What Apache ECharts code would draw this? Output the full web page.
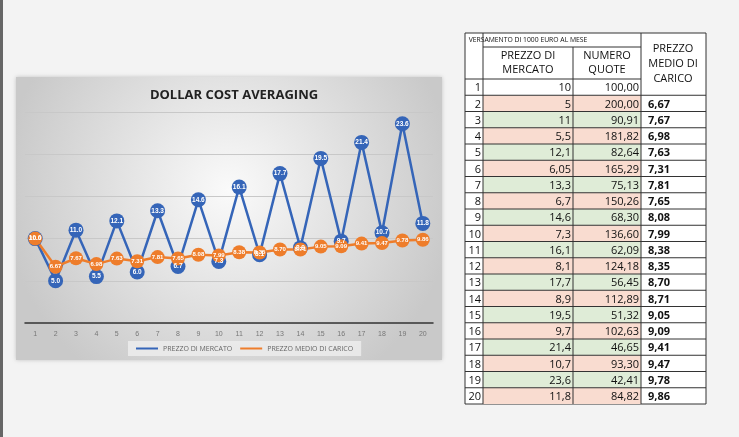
<!DOCTYPE html>
<html>
<head>
<meta charset="utf-8">
<script src="https://cdn.jsdelivr.net/npm/echarts@6/dist/echarts.min.js"></script>
<style>
html,body{margin:0;padding:0;background:#f3f3f3;}
#main{width:739px;height:437px;}
</style>
</head>
<body>
<div id="main"></div>
<script>
var mesi = ['1','2','3','4','5','6','7','8','9','10','11','12','13','14','15','16','17','18','19','20'];
var prezzo = [10, 5, 11, 5.5, 12.1, 6.05, 13.3, 6.7, 14.6, 7.3, 16.1, 8.1, 17.7, 8.9, 19.5, 9.7, 21.4, 10.7, 23.6, 11.8];
var prezzoTxt = ['10','5','11','5,5','12,1','6,05','13,3','6,7','14,6','7,3','16,1','8,1','17,7','8,9','19,5','9,7','21,4','10,7','23,6','11,8'];
var quote = ['100,00','200,00','90,91','181,82','82,64','165,29','75,13','150,26','68,30','136,60','62,09','124,18','56,45','112,89','51,32','102,63','46,65','93,30','42,41','84,82'];
var medio = [10, 6.67, 7.67, 6.98, 7.63, 7.31, 7.81, 7.65, 8.08, 7.99, 8.38, 8.35, 8.70, 8.71, 9.05, 9.09, 9.41, 9.47, 9.78, 9.86];

var myChart = echarts.init(document.getElementById('main'));

// tabella a destra
var g = [];
var tx = [465, 483, 573, 641, 706];
var top0 = 79, rh = 16.25;
var font = '"Open Sans", sans-serif';
g.push({type:'rect', shape:{x:465,y:33,width:241,height:371}, style:{fill:'#fff',stroke:'#333',lineWidth:1}});
g.push({type:'text', style:{x:528,y:40,text:'VERSAMENTO DI 1000 EURO AL MESE',fill:'#111',font:'6.8px '+font,align:'center',verticalAlign:'middle'}});
g.push({type:'line', shape:{x1:483,y1:47,x2:641,y2:47}, style:{stroke:'#333'}});
g.push({type:'text', style:{x:528,y:63,text:'PREZZO DI\nMERCATO',fill:'#111',font:'11px '+font,align:'center',verticalAlign:'middle',lineHeight:14}});
g.push({type:'text', style:{x:607,y:63,text:'NUMERO\nQUOTE',fill:'#111',font:'11px '+font,align:'center',verticalAlign:'middle',lineHeight:14}});
g.push({type:'text', style:{x:673,y:64,text:'PREZZO\nMEDIO DI\nCARICO',fill:'#111',font:'11px '+font,align:'center',verticalAlign:'middle',lineHeight:15}});
for (var i = 0; i < mesi.length; i++) {
	var y = top0 + i * rh;
	var fill = i === 0 ? '#ffffff' : (i % 2 === 1 ? '#f9dcd0' : '#dfecd7');
	g.push({type:'rect', shape:{x:483,y:y,width:158,height:rh}, style:{fill:fill}});
	g.push({type:'text', style:{x:481,y:y+rh/2+1,text:mesi[i],fill:'#111',font:'11px '+font,align:'right',verticalAlign:'middle'}});
	g.push({type:'text', style:{x:571,y:y+rh/2+1,text:prezzoTxt[i],fill:'#111',font:'11px '+font,align:'right',verticalAlign:'middle'}});
	g.push({type:'text', style:{x:639,y:y+rh/2+1,text:quote[i],fill:'#111',font:'11px '+font,align:'right',verticalAlign:'middle'}});
	if (i > 0) {
		g.push({type:'text', style:{x:648,y:y+rh/2+1,text:medio[i].toFixed(2).replace('.', ','),fill:'#111',font:'bold 11px '+font,align:'left',verticalAlign:'middle'}});
		g.push({type:'line', shape:{x1:465,y1:y,x2:706,y2:y}, style:{stroke:'#333'}});
	} else {
		g.push({type:'line', shape:{x1:465,y1:y,x2:641,y2:y}, style:{stroke:'#333'}});
	}
}
for (var c = 1; c < 4; c++) {
	g.push({type:'line', shape:{x1:tx[c],y1:(c===2?47:33),x2:tx[c],y2:404}, style:{stroke:'#333'}});
}
// pannello grafico
g.unshift({type:'rect', z:-10, shape:{x:16,y:77,width:426,height:283}, style:{
	fill:new echarts.graphic.RadialGradient(0.5,0.4,0.8,[{offset:0,color:'#fafafa'},{offset:1,color:'#c9c9c9'}]),
	shadowBlur:4, shadowColor:'rgba(0,0,0,0.2)'}});
g.unshift({type:'rect', z:-11, shape:{x:0,y:0,width:3,height:437}, style:{fill:'#666'}});

var option = {
	backgroundColor : '#f3f3f3',
	title : {
		text : 'DOLLAR COST AVERAGING',
		left : 229, top : 84, textAlign : 'center',
		textStyle : {color:'#222', fontSize:13, fontWeight:'bold', fontFamily:font}
	},
	legend : {
		left : 128, top : 341, itemWidth : 22, itemHeight : 6,
		icon : 'path://M0,2 L22,2 L22,4 L0,4 Z',
		backgroundColor : 'rgba(235,235,235,0.9)', padding : [4,8],
		textStyle : {fontSize:7, color:'#666', fontFamily:font},
		data : ['PREZZO DI MERCATO','PREZZO MEDIO DI CARICO']
	},
	grid : {left:25, right:306, top:112, bottom:114},
	xAxis : {
		type : 'category', data : mesi,
		axisLine : {lineStyle:{color:'#333', width:1.5}},
		axisTick : {show:false},
		axisLabel : {fontSize:7, color:'#777', margin:8}
	},
	yAxis : {
		type : 'value', min : 0, max : 25, interval : 5,
		axisLabel : {show:false},
		splitLine : {lineStyle:{color:'#c8c8c8'}}
	},
	graphic : g,
	series : [
		{
			name : 'PREZZO DI MERCATO', type : 'line', data : prezzo,
			color : '#3565b8', symbol : 'circle', symbolSize : 15,
			lineStyle : {width:2.5},
			label : {show:true, position:'inside', fontSize:6.5, fontWeight:'bold', color:'#fff',
				formatter:function(p){return p.value.toFixed(1);}}
		},
		{
			name : 'PREZZO MEDIO DI CARICO', type : 'line', data : medio,
			color : '#ee7d2b', symbol : 'circle', symbolSize : 14,
			lineStyle : {width:2.5},
			label : {show:true, position:'inside', fontSize:6, fontWeight:'bold', color:'#fff',
				formatter:function(p){return p.dataIndex === 0 ? '10.0' : p.value.toFixed(2);}}
		}
	]
};
myChart.setOption(option);
</script>
</body>
</html>
